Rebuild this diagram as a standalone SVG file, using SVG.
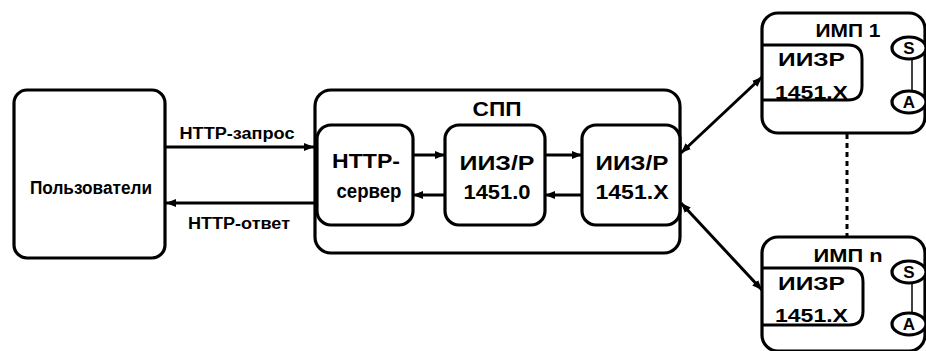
<svg xmlns="http://www.w3.org/2000/svg" width="926" height="351" viewBox="0 0 926 351">
<defs>
<marker id="ah" viewBox="0 0 10 8" refX="10" refY="4" markerWidth="10" markerHeight="8" markerUnits="userSpaceOnUse" orient="auto-start-reverse">
<path d="M0,0 L10,4 L0,8 z" fill="#000"/>
</marker>
<style>
.box{fill:#fff;stroke:#000;stroke-width:3.2}
.ln{fill:none;stroke:#000;stroke-width:3}
.t{font-family:"Liberation Sans",Arial,sans-serif;font-weight:bold;fill:#000}
</style>
</defs>
<rect width="926" height="351" fill="#fff"/>
<g id="users">
<rect class="box" x="14" y="90" width="151" height="168" rx="13"/>
<text class="t" x="91" y="194" font-size="18" text-anchor="middle" textLength="122" lengthAdjust="spacingAndGlyphs">Пользователи</text>
</g>
<g id="spp">
<rect class="box" x="315" y="90" width="365" height="163" rx="16"/>
<text class="t" x="497" y="116" font-size="20" text-anchor="middle" textLength="49" lengthAdjust="spacingAndGlyphs">СПП</text>
</g>
<g id="http-server">
<rect class="box" x="317" y="125" width="96" height="100" rx="14"/>
<text class="t" x="366" y="168" font-size="20" text-anchor="middle" textLength="68" lengthAdjust="spacingAndGlyphs">HTTP-</text>
<text class="t" x="369" y="198" font-size="20" text-anchor="middle" textLength="65" lengthAdjust="spacingAndGlyphs">сервер</text>
</g>
<g id="iizr0">
<rect class="box" x="445" y="125" width="100" height="100" rx="14"/>
<text class="t" x="497" y="170" font-size="20" text-anchor="middle" textLength="75" lengthAdjust="spacingAndGlyphs">ИИЗ/Р</text>
<text class="t" x="497" y="199" font-size="20" text-anchor="middle" textLength="67" lengthAdjust="spacingAndGlyphs">1451.0</text>
</g>
<g id="iizrx">
<rect class="box" x="582" y="125" width="98" height="100" rx="14"/>
<text class="t" x="632" y="170" font-size="20" text-anchor="middle" textLength="73" lengthAdjust="spacingAndGlyphs">ИИЗ/Р</text>
<text class="t" x="632" y="199" font-size="20" text-anchor="middle" textLength="73" lengthAdjust="spacingAndGlyphs">1451.X</text>
</g>
<g id="imp1">
<rect class="box" x="762" y="13" width="163" height="120" rx="16"/>
<text class="t" x="848" y="37" font-size="18" text-anchor="middle" textLength="65" lengthAdjust="spacingAndGlyphs">ИМП 1</text>
<path class="ln" d="M763,45 H848 Q862,45 862,59 V86 Q862,100 848,100 H763"/>
<text class="t" x="778" y="66" font-size="18" textLength="67" lengthAdjust="spacingAndGlyphs">ИИЗР</text>
<text class="t" x="775" y="99" font-size="18" textLength="73" lengthAdjust="spacingAndGlyphs">1451.X</text>
<line x1="912" y1="58" x2="912" y2="91" stroke="#000" stroke-width="1.5"/>
<ellipse class="box" cx="909" cy="48" rx="17" ry="11"/>
<text class="t" x="909" y="54" font-size="17" text-anchor="middle">S</text>
<ellipse class="box" cx="909" cy="102" rx="17" ry="11"/>
<text class="t" x="909" y="108" font-size="17" text-anchor="middle">A</text>
</g>
<g id="impn">
<rect class="box" x="762" y="237" width="163" height="114" rx="16"/>
<text class="t" x="848" y="262" font-size="18" text-anchor="middle" textLength="69" lengthAdjust="spacingAndGlyphs">ИМП n</text>
<path class="ln" d="M763,268 H849 Q863,268 863,282 V311 Q863,325 849,325 H763"/>
<text class="t" x="778" y="290" font-size="18" textLength="67" lengthAdjust="spacingAndGlyphs">ИИЗР</text>
<text class="t" x="775" y="322" font-size="18" textLength="73" lengthAdjust="spacingAndGlyphs">1451.X</text>
<line x1="912" y1="282" x2="912" y2="314" stroke="#000" stroke-width="1.5"/>
<ellipse class="box" cx="909" cy="272" rx="17" ry="11"/>
<text class="t" x="909" y="278" font-size="17" text-anchor="middle">S</text>
<ellipse class="box" cx="909" cy="324" rx="17" ry="11"/>
<text class="t" x="909" y="330" font-size="17" text-anchor="middle">A</text>
</g>
<g id="connectors">
<line class="ln" x1="165" y1="147" x2="314" y2="147" marker-end="url(#ah)"/>
<text class="t" x="237" y="139" font-size="16" text-anchor="middle" textLength="115" lengthAdjust="spacingAndGlyphs">HTTP-запрос</text>
<line class="ln" x1="315" y1="203" x2="166" y2="203" marker-end="url(#ah)"/>
<text class="t" x="239" y="229" font-size="16" text-anchor="middle" textLength="102" lengthAdjust="spacingAndGlyphs">HTTP-ответ</text>
<line class="ln" x1="413" y1="155" x2="445" y2="155" marker-end="url(#ah)"/>
<line class="ln" x1="445" y1="195" x2="413" y2="195" marker-end="url(#ah)"/>
<line class="ln" x1="545" y1="155" x2="582" y2="155" marker-end="url(#ah)"/>
<line class="ln" x1="582" y1="195" x2="545" y2="195" marker-end="url(#ah)"/>
<line class="ln" x1="681" y1="153" x2="762" y2="77" marker-start="url(#ah)" marker-end="url(#ah)"/>
<line class="ln" x1="681" y1="203" x2="762" y2="290" marker-start="url(#ah)" marker-end="url(#ah)"/>
<line class="ln" x1="847" y1="134" x2="847" y2="236" stroke-dasharray="5 4"/>
</g>
</svg>
